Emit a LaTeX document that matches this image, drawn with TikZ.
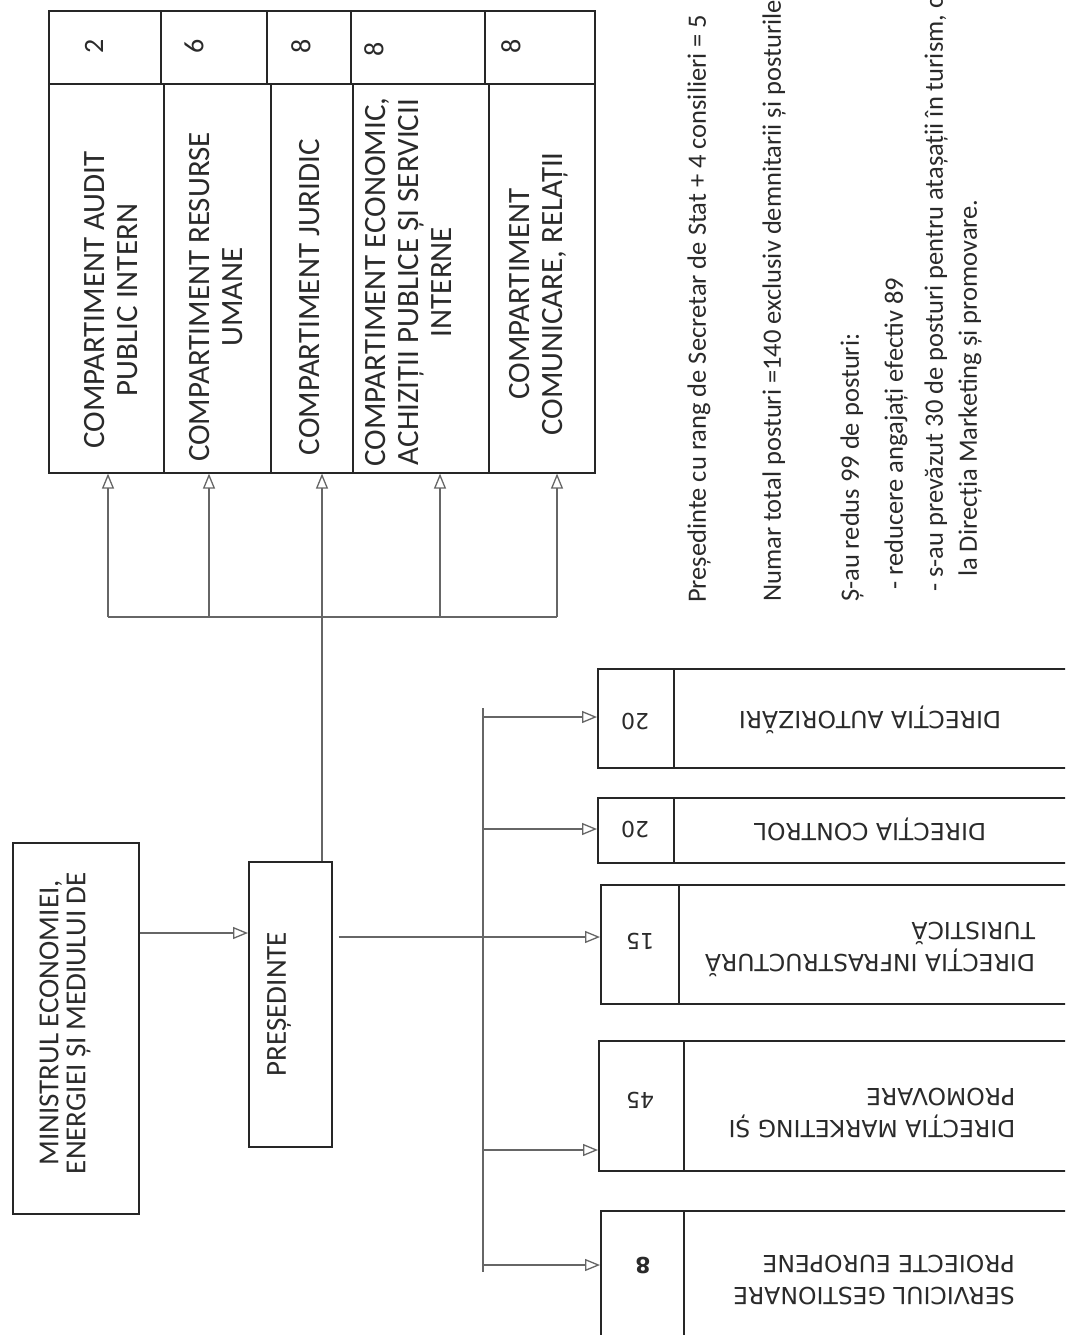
\documentclass[tikz,border=0pt]{standalone}
\usepackage{fontspec}
\setmainfont{Carlito}
\newfontfamily\vfont{DejaVu Sans}
\usetikzlibrary{arrows.meta}
\definecolor{ink}{HTML}{262626}
\definecolor{lineg}{HTML}{666666}
\definecolor{txt}{HTML}{2A2A2A}
\begin{document}
\begin{tikzpicture}[x=1pt,y=-1pt,
  box/.style={draw=ink, line width=1.6pt, inner sep=0pt, anchor=north west},
  conn/.style={draw=lineg, line width=1.1pt},
  arr/.style={conn, -{Triangle[open, length=15pt, width=12pt, line width=1.3pt]}},
  ctext/.style={font=\fontsize{29}{32}\selectfont, text=txt, align=center, rotate=90, inner sep=0pt},
  comptext/.style={ctext, font=\fontsize{31}{33}\selectfont},
  dig/.style={font=\fontsize{28}{30}\selectfont, text=txt, rotate=90, inner sep=0pt},
  note/.style={font=\fontsize{26.5}{30}\selectfont, text=txt, rotate=90, inner sep=0pt, anchor=west},
  vtext/.style={font=\vfont\fontsize{23.5}{32}\selectfont, text=txt, align=left, rotate=180, inner sep=0pt},
  vnum/.style={font=\vfont\fontsize{22}{24}\selectfont, text=txt, rotate=180, inner sep=0pt}
]
\useasboundingbox (0,0) rectangle (1065,1335);
\clip (0,0) rectangle (1065,1335);
\fill[white] (0,0) rectangle (1065,1335);

% top compartments: number row
\node[box, minimum width=112pt, minimum height=73pt] (n1) at (48,10) {};
\node[box, minimum width=106pt, minimum height=73pt] (n2) at (160,10) {};
\node[box, minimum width=84pt,  minimum height=73pt] (n3) at (266,10) {};
\node[box, minimum width=134pt, minimum height=73pt] (n4) at (350,10) {};
\node[box, minimum width=110pt, minimum height=73pt] (n5) at (484,10) {};
% body row
\node[box, minimum width=115pt, minimum height=389pt] (c1) at (48,83) {};
\node[box, minimum width=107pt, minimum height=389pt] (c2) at (163,83) {};
\node[box, minimum width=82pt,  minimum height=389pt] (c3) at (270,83) {};
\node[box, minimum width=136pt, minimum height=389pt] (c4) at (352,83) {};
\node[box, minimum width=106pt, minimum height=389pt] (c5) at (488,83) {};

\node[dig] (d1) at (94,46) {2};
\node[dig] (d2) at (194,46) {6};
\node[dig] (d3) at (301,46) {8};
\node[dig] (d4) at (374,49) {8};
\node[dig] (d5) at (511,46) {8};

\node[comptext] (t1) at (111,300) {COMPARTIMENT AUDIT\\PUBLIC INTERN};
\node[comptext] (t2) at (216,297) {COMPARTIMENT RESURSE\\UMANE};
\node[comptext] (t3) at (310,297) {COMPARTIMENT JURIDIC};
\node[comptext] (t4) at (408,282) {COMPARTIMENT ECONOMIC,\\ACHIZIȚII PUBLICE ȘI SERVICII\\INTERNE};
\node[comptext] (t5) at (539,294) {COMPARTIMENT\\COMUNICARE, RELAȚII};

% left boxes
\node[box, minimum width=126pt, minimum height=371pt] (min) at (12,842) {};
\node[ctext, font=\fontsize{29}{27}\selectfont] (mt) at (65,1023) {MINISTRUL ECONOMIEI,\\ENERGIEI ȘI MEDIULUI DE};
\node[box, minimum width=83pt, minimum height=285pt] (pres) at (248,861) {};
\node[ctext] (pt) at (279,1004) {PREȘEDINTE};

% bottom directions
\node[box, minimum width=76pt, minimum height=99pt] (anum) at (597,668) {};
\node[box, minimum width=430pt, minimum height=99pt] (atxt) at (673,668) {};
\node[box, minimum width=76pt, minimum height=65pt] (cnum) at (597,797) {};
\node[box, minimum width=430pt, minimum height=65pt] (ctxt) at (673,797) {};
\node[box, minimum width=78pt, minimum height=119pt] (inum) at (600,884) {};
\node[box, minimum width=425pt, minimum height=119pt] (itxt) at (678,884) {};
\node[box, minimum width=85pt, minimum height=130pt] (mnum) at (598,1040) {};
\node[box, minimum width=420pt, minimum height=130pt] (mtxt) at (683,1040) {};
\node[box, minimum width=83pt, minimum height=150pt] (snum) at (600,1210) {};
\node[box, minimum width=420pt, minimum height=150pt] (stxt) at (683,1210) {};

\node[vnum] (an) at (635,721) {20};
\node[vnum] (cn) at (635,829) {20};
\node[vnum] (in) at (640,941) {15};
\node[vnum] (mn) at (640,1100) {45};
\node[vnum, font=\vfont\bfseries\fontsize{22}{24}\selectfont] (sn) at (643,1265) {8};

\node[vtext] (al) at (870,720) {DIRECȚIA AUTORIZĂRI};
\node[vtext] (cl) at (870,829) {DIRECȚIA CONTROL};
\node[vtext] (il) at (870,949) {DIRECȚIA INFRASTRUCTURĂ\\TURISTICĂ};
\node[vtext] (ml) at (872,1113) {DIRECȚIA MARKETING ȘI\\PROMOVARE};
\node[vtext] (sl) at (874,1280) {SERVICIUL GESTIONARE\\PROIECTE EUROPENE};

% notes
\node[note] (nt1) at (699,603) {Președinte cu rang de Secretar de Stat + 4 consilieri = 5};
\node[note] (nt2) at (774,602) {Numar total posturi =140 exclusiv demnitarii și posturile};
\node[note] (nt3) at (852,602) {Ș-au redus 99 de posturi:};
\node[note] (nt4) at (896,590) {- reducere angajați efectiv 89};
\node[note] (nt5) at (936,592) {- s-au prevăzut 30 de posturi pentru atașații în turism, c};
\node[note] (nt6) at (970,577) {la Direcția Marketing și promovare.};

% connectors: ministru -> presedinte
\coordinate (ym) at (0,933);
\draw[arr] (min.east |- ym) -- (pres.west |- ym);

% bus to compartments
\coordinate (busL) at (108,617);
\coordinate (bus2) at (209,617);
\coordinate (busM) at (322,617);
\coordinate (bus4) at (440,617);
\coordinate (busR) at (557,617);
\draw[conn] (busL) -- (busR);
\draw[arr] (busL) -- (c1.south -| busL);
\draw[arr] (bus2) -- (c2.south -| bus2);
\draw[arr] (pres.north -| busM) -- (c3.south -| busM);
\draw[arr] (bus4) -- (c4.south -| bus4);
\draw[arr] (busR) -- (c5.south -| busR);

% presedinte to directions
\coordinate (yp) at (0,937);
\draw[arr, shorten <=6pt] (pres.east |- yp) -- (inum.west |- yp);
\coordinate (trT) at (483,708);
\coordinate (trB) at (483,1272);
\draw[conn] (trT) -- (trB);
\coordinate (ya) at (483,717);
\coordinate (yc) at (483,829);
\coordinate (yk) at (483,1150);
\coordinate (ys) at (483,1265);
\draw[arr] (ya) -- (anum.west |- ya);
\draw[arr] (yc) -- (cnum.west |- yc);
\draw[arr] (yk) -- (mnum.west |- yk);
\draw[arr] (ys) -- (snum.west |- ys);
\end{tikzpicture}
\end{document}
